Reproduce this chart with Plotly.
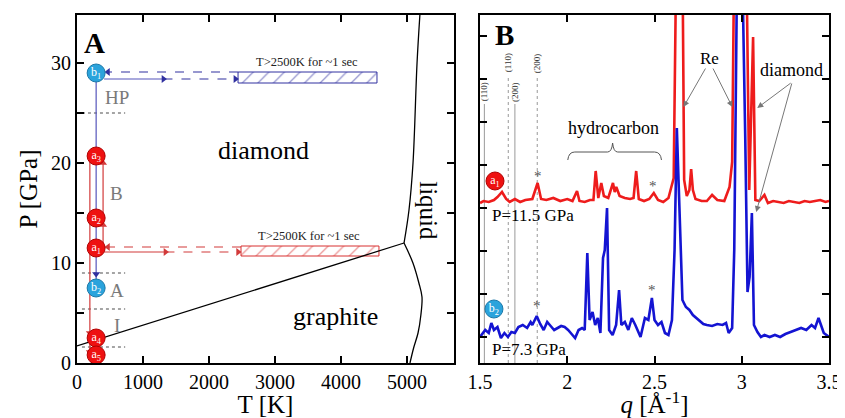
import plotly.graph_objects as go

# ---------------- Panel A data ----------------
gd_T = [0, 4955]                 # graphite-diamond boundary
gd_P = [1.7, 12.0]
dl_T = [4955, 5030, 5091, 5152, 5197]   # diamond-liquid
dl_P = [12.0, 15.3, 20.0, 30.0, 35.0]
gl_T = [4955, 5090, 5180, 5227, 5210, 5167, 5100, 5045]  # graphite-liquid
gl_P = [12.0, 10.0, 8.0, 6.6, 4.8, 3.0, 1.5, 0.0]

sample_names = ["b<sub>1</sub>", "a<sub>3</sub>", "a<sub>2</sub>", "a<sub>1</sub>",
                "b<sub>2</sub>", "a<sub>4</sub>", "a<sub>5</sub>"]
sample_T = [290, 290, 290, 290, 290, 290, 290]
sample_P = [29.0, 20.7, 14.5, 11.5, 7.5, 2.5, 0.8]
sample_kind = ["b", "a", "a", "a", "b", "a", "a"]

region_P = [25.0, 9.0, 5.4, 1.6]          # dotted separators
region_labels = ["HP", "B", "A", "I"]
region_label_P = [26.6, 17.0, 7.3, 3.8]

heat_T_start = [2440, 2485]
heat_T_end = [4545, 4575]
heat_P_center = [28.55, 11.2]
heat_P_height = [1.1, 1.0]

# ---------------- Panel B data ----------------
red_q = [1.50, 1.52, 1.55, 1.58, 1.60, 1.626, 1.65, 1.67, 1.70, 1.73, 1.76, 1.80, 1.83, 1.85,
         1.88, 1.92, 1.96, 2.00, 2.03, 2.056, 2.07, 2.10, 2.13, 2.15, 2.163, 2.178, 2.195,
         2.21, 2.235, 2.262, 2.272, 2.281, 2.30, 2.33, 2.36, 2.38, 2.395, 2.41, 2.44, 2.47,
         2.496, 2.52, 2.55, 2.58, 2.595, 2.61, 2.625, 2.645, 2.66, 2.67, 2.685, 2.70, 2.71,
         2.72, 2.735, 2.77, 2.80, 2.83, 2.86, 2.90, 2.93, 2.945, 2.957, 2.99, 3.026, 3.043,
         3.065, 3.078, 3.10, 3.13, 3.15, 3.18, 3.21, 3.24, 3.27, 3.30, 3.33, 3.36, 3.39,
         3.42, 3.45, 3.48, 3.50]
red_I = [-1, 1, 0, 2, 5, 10, 3, 0, 3, 0, 2, 3, 19, 3,
         2, 4, 1, 3, 1, 11, 1, 0, 2, 2, 31, 4, 19,
         6, 4, 19, 10, 15, 6, 4, 3, 4, 31, 3, 1, 3,
         9, 2, 0, 4, 14, 24, 250, 250, 250, 22, 6, 12, 33,
         12, 3, 1, 1, 7, 2, 1, 15, 40, 250, 250, 250, 12,
         165, 2, 1, 7, -1, 1, 0, -1, 1, 0, -1, 1, 0,
         1, 2, 0, 1]
red_offset = 135

blue_q = [1.50, 1.51, 1.53, 1.55, 1.565, 1.58, 1.60, 1.62, 1.64, 1.66, 1.68, 1.70, 1.72, 1.745,
          1.77, 1.79, 1.80, 1.825, 1.845, 1.865, 1.885, 1.905, 1.925, 1.945, 1.965, 1.985,
          2.005, 2.025, 2.045, 2.065, 2.085, 2.10, 2.115, 2.128, 2.145, 2.16, 2.175, 2.19,
          2.205, 2.215, 2.228, 2.24, 2.26, 2.28, 2.297, 2.31, 2.33, 2.35, 2.37, 2.39, 2.42,
          2.445, 2.465, 2.485, 2.50, 2.52, 2.54, 2.56, 2.58, 2.60, 2.615, 2.628, 2.642, 2.66,
          2.68, 2.70, 2.72, 2.75, 2.78, 2.80, 2.83, 2.86, 2.89, 2.91, 2.925, 2.945, 2.957,
          2.975, 3.00, 3.02, 3.033, 3.045, 3.058, 3.07, 3.09, 3.11, 3.13, 3.16, 3.19, 3.22,
          3.25, 3.28, 3.31, 3.34, 3.37, 3.40, 3.42, 3.44, 3.47, 3.50]
blue_I = [0, 2, 7, 4, 14, 7, 10, -1, 4, 0, 5, 4, 10, 12,
          9, 15, 12, 21, 13, 7, 15, 11, 7, 9, 11, 10,
          7, 3, -1, 7, 9, 7, 84, 17, 25, 12, 19, 4,
          79, 87, 129, 7, 2, 12, 47, 12, 15, 7, 19, 12, 0,
          19, 17, 39, 17, 12, 15, 4, 2, 17, 87, 209, 137, 37,
          30, 27, 22, 17, 13, 12, 11, 13, 12, 14, 4, 9, 87,
          400, 400, 200, 45, 60, 124, 12, 5, 0, 2, 0, 2, 0,
          3, 5, 7, 9, 7, 12, 9, 19, 4, 0]
assert len(red_q) == len(red_I) and len(blue_q) == len(blue_I)

ref_q = [1.525, 1.662, 1.70, 1.828]
ref_labels = ["(110)", "(110)", "(200)", "(200)"]
ref_dash = ["solid", "dot", "solid", "dot"]

SERIF = "Liberation Serif, Times New Roman, serif"
RED = "#ee1c1c"
BLUE = "#1414d2"
LRED = "#d23a3a"
LBLUE = "#5555bb"
CIRC_RED = "#ee1111"
CIRC_BLUE = "#2aa3dc"
GRAY = "#7a7a7a"

# page body has an 8px margin -> figure is 8px smaller, coordinates shifted by 8px
W, H, OFF = 837, 410, 8

fig = go.Figure()

# ---- Panel A ----
for T, P in [(gd_T, gd_P), (dl_T, dl_P), (gl_T, gl_P)]:
    fig.add_trace(go.Scatter(x=T, y=P, mode="lines", line=dict(color="black", width=1.3),
                             line_shape="spline", xaxis="x", yaxis="y", hoverinfo="skip"))

for p in region_P:
    fig.add_trace(go.Scatter(x=[75, 730], y=[p, p], mode="lines",
                             line=dict(color="#888888", width=1.5, dash="dot"),
                             xaxis="x", yaxis="y", hoverinfo="skip"))

# hatched heating boxes
for i in range(2):
    c = "#3030a0" if i == 0 else "#d83030"
    fig.add_trace(go.Bar(orientation="h", y=[heat_P_center[i]],
                         x=[heat_T_end[i] - heat_T_start[i]], base=[heat_T_start[i]],
                         width=heat_P_height[i], xaxis="x", yaxis="y",
                         marker=dict(color="white", line=dict(color=c, width=1),
                                     pattern=dict(shape="/", fgcolor=c, bgcolor="white",
                                                  size=11, solidity=0.12)),
                         hoverinfo="skip"))

def seg(x, y, color, dash="solid", width=1.2):
    fig.add_trace(go.Scatter(x=x, y=y, mode="lines", line=dict(color=color, width=width, dash=dash),
                             xaxis="x", yaxis="y", hoverinfo="skip"))

def head(x, y, color, sym):
    fig.add_trace(go.Scatter(x=[x], y=[y], mode="markers",
                             marker=dict(symbol=sym, size=7, color=color),
                             xaxis="x", yaxis="y", hoverinfo="skip"))

# blue path
seg([290, 290], [29.0, 8.3], LBLUE)
head(290, 8.9, "#3030a0", "triangle-down")
seg([2440, 480], [29.1, 29.1], "#3030a0", "dash")
head(470, 29.1, "#3030a0", "triangle-left")
seg([410, 1310], [28.4, 28.4], LBLUE)
head(1310, 28.4, "#3030a0", "triangle-right")
seg([1310, 2400], [28.4, 28.4], "#3030a0", "dash")
head(2400, 28.4, "#3030a0", "triangle-right")
# red path
seg([395, 395], [11.5, 20.4], LRED)
head(395, 13.8, LRED, "triangle-up")
head(395, 20.0, LRED, "triangle-up")
seg([195, 195], [20.6, 0.6], LRED)
head(195, 3.0, LRED, "triangle-down")
head(195, 1.1, LRED, "triangle-down")
seg([2485, 480], [11.6, 11.6], LRED, "dash")
head(470, 11.6, LRED, "triangle-left")
seg([410, 1340], [11.1, 11.1], LRED)
head(1340, 11.1, LRED, "triangle-right")
seg([1340, 2440], [11.1, 11.1], LRED, "dash")
head(2440, 11.1, LRED, "triangle-right")

fig.add_trace(go.Scatter(
    x=sample_T, y=sample_P, mode="markers+text", text=sample_names,
    textposition="middle center", textfont=dict(family=SERIF, size=12, color="white"),
    marker=dict(size=18, color=[CIRC_RED if k == "a" else CIRC_BLUE for k in sample_kind],
                line=dict(color=["#b00000" if k == "a" else "#1a78a8" for k in sample_kind], width=1)),
    xaxis="x", yaxis="y", hoverinfo="skip"))

# ---- Panel B ----
for q, lab, d in zip(ref_q, ref_labels, ref_dash):
    top = 233 if d == "solid" else 262
    fig.add_trace(go.Scatter(x=[q, q], y=[-26, top], mode="lines",
                             line=dict(color="#999999", width=1, dash=d),
                             xaxis="x2", yaxis="y2", hoverinfo="skip"))

fig.add_trace(go.Scatter(x=red_q, y=[v + red_offset for v in red_I], mode="lines",
                         line=dict(color=RED, width=2.6), xaxis="x2", yaxis="y2", hoverinfo="skip"))
fig.add_trace(go.Scatter(x=blue_q, y=blue_I, mode="lines",
                         line=dict(color=BLUE, width=2.6), xaxis="x2", yaxis="y2", hoverinfo="skip"))

fig.add_trace(go.Scatter(
    x=[1.586, 1.580], y=[156, 28], mode="markers+text",
    text=["a<sub>1</sub>", "b<sub>2</sub>"], textposition="middle center",
    textfont=dict(family=SERIF, size=12, color="white"),
    marker=dict(size=18, color=[CIRC_RED, CIRC_BLUE], line=dict(color=["#b00000", "#1a78a8"], width=1)),
    xaxis="x2", yaxis="y2", hoverinfo="skip"))

fig.add_shape(type="path", xref="x2", yref="y2",
              path="M 2.003 177 Q 2.008 185 2.043 185 L 2.231 185 Q 2.255 185 2.260 194 "
                   "Q 2.265 185 2.289 185 L 2.500 185 Q 2.535 185 2.540 177",
              line=dict(color="#555555", width=1))

# annotation arrows drawn as shapes-free line traces with arrowheads via annotations
ann = []
def txt(x, y, s, xr="x", yr="y", size=18, color="black", xanchor="center", angle=0):
    ann.append(dict(x=x, y=y, xref=xr, yref=yr, text=s, showarrow=False, xanchor=xanchor,
                    yanchor="middle", textangle=angle,
                    font=dict(family=SERIF, size=size, color=color)))

txt(270, 32.0, "<b>A</b>", size=29)
txt(2833, 21.3, "diamond", size=26)
txt(3909, 4.7, "graphite", size=26)
txt(5330, 15.2, "liquid", size=25, angle=90)
for lab, p in zip(region_labels, region_label_P):
    txt(600, p, lab, size=19, color=GRAY)
txt(3490, 30.15, "T&gt;2500K for ~1 sec", size=12.5, color="#222222")
txt(3520, 12.75, "T&gt;2500K for ~1 sec", size=12.5, color="#222222")

txt(1.574, 302, "<b>B</b>", "x2", "y2", size=29, xanchor="left")
txt(2.266, 209, "hydrocarbon", "x2", "y2", size=18)
txt(2.814, 279, "Re", "x2", "y2", size=17)
txt(3.283, 267, "diamond", "x2", "y2", size=18)
txt(1.560, 122, "P=11.5 GPa", "x2", "y2", size=17, xanchor="left")
txt(1.560, -12, "P=7.3 GPa", "x2", "y2", size=17, xanchor="left")
for x, y in [(1.831, 161), (2.494, 151), (1.826, 31), (2.483, 47)]:
    txt(x, y, "*", "x2", "y2", size=15, color="#555555")
for x, y, lab in [(1.525, 245, "(110)"), (1.662, 274, "(110)"), (1.70, 245, "(200)"), (1.828, 274, "(200)")]:
    txt(x, y, lab, "x2", "y2", size=9, color="#333333", angle=-90)

for (tx, ty, hx, hy) in [(2.797, 270, 2.666, 230), (2.831, 270, 2.946, 230),
                         (3.289, 255, 3.089, 229), (3.289, 255, 3.083, 125)]:
    ann.append(dict(x=hx, y=hy, ax=tx, ay=ty, xref="x2", yref="y2", axref="x2", ayref="y2",
                    text="", showarrow=True, arrowhead=2, arrowsize=1.2, arrowwidth=1,
                    arrowcolor="#777777"))

tick_style = dict(ticks="inside", ticklen=7, tickwidth=1.5, tickcolor="black")
axis_common = dict(showline=True, linecolor="black", linewidth=2, mirror="ticks",
                   showgrid=False, zeroline=False, automargin=False,
                   tickfont=dict(family=SERIF, size=20, color="black"), **tick_style)

ydom = [(H - (363 - OFF)) / H, (H - (15 - OFF)) / H]

fig.update_layout(
    width=W, height=H, margin=dict(l=0, r=0, t=0, b=0, autoexpand=False),
    paper_bgcolor="white", plot_bgcolor="white", showlegend=False, barmode="overlay",
    annotations=ann,
    xaxis=dict(domain=[(77 - OFF) / W, (454 - OFF) / W], range=[0, 5712],
               tickvals=[0, 1000, 2000, 3000, 4000, 5000],
               title=dict(text="T [K]", font=dict(family=SERIF, size=25, color="black"), standoff=2),
               anchor="y", **axis_common),
    yaxis=dict(domain=ydom, range=[0, 34.8],
               tickvals=[0, 10, 20, 30],
               minor=dict(tickvals=[5, 15, 25], showgrid=False, **tick_style),
               title=dict(text="P [GPa]", font=dict(family=SERIF, size=25, color="black"), standoff=6),
               anchor="x", **axis_common),
    xaxis2=dict(domain=[(480 - OFF) / W, (829 - OFF) / W], range=[1.5, 3.5],
                tickvals=[1.5, 2, 2.5, 3, 3.5], ticktext=["1.5", "2", "2.5", "3", "3.5"],
                title=dict(text="<i>q</i> [Å<sup>-1</sup>]", font=dict(family=SERIF, size=25, color="black"),
                           standoff=2),
                anchor="y2", **axis_common),
    yaxis2=dict(domain=ydom, range=[-26, 322],
                tickvals=[0, 43, 86, 129, 172, 215, 258, 301], showticklabels=False,
                anchor="x2", **axis_common),
)

fig.write_html("out.html")
